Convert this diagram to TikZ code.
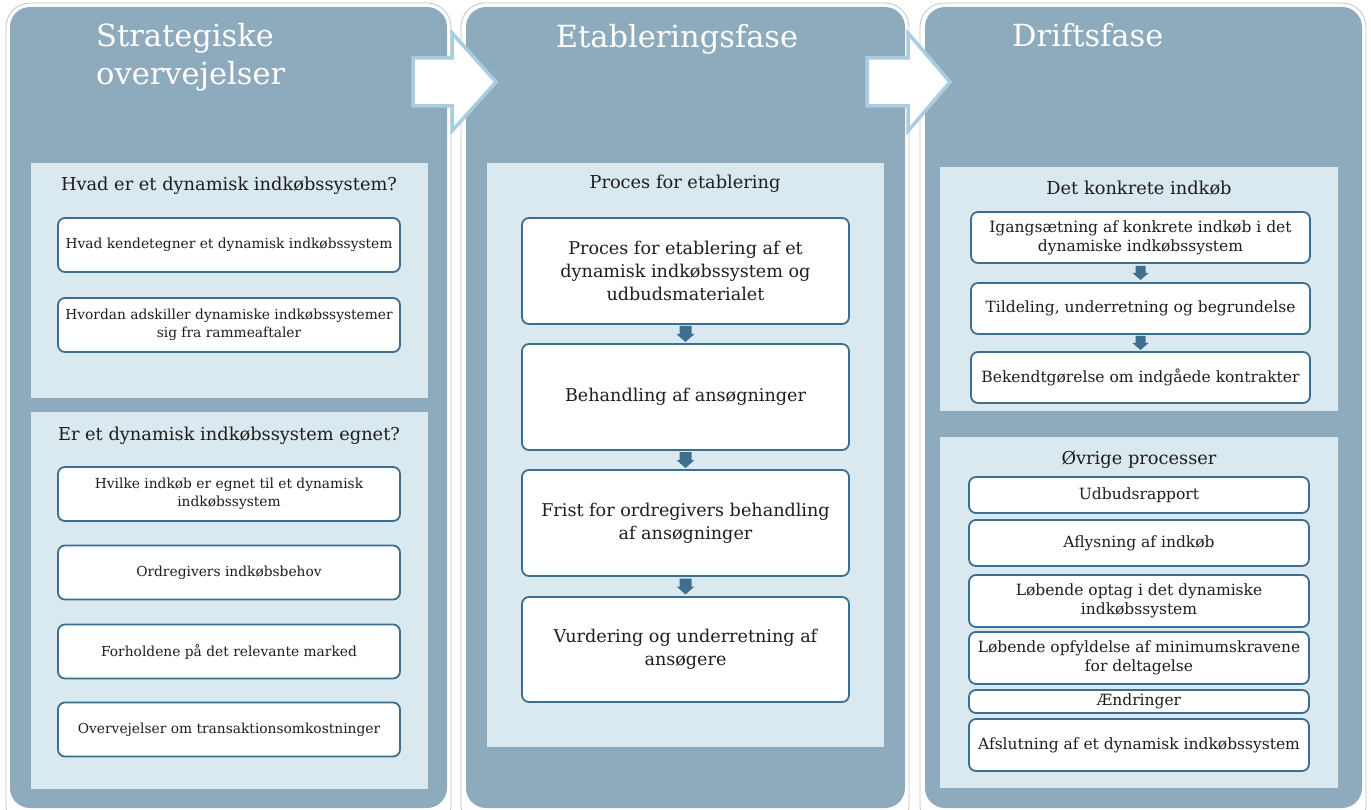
\documentclass[tikz,border=0pt]{standalone}
\usepackage{fontspec}
\setmainfont{DejaVu Serif}
\usetikzlibrary{calc}
\definecolor{panelc}{HTML}{8EABBE}
\definecolor{innerc}{HTML}{DAE8F0}
\definecolor{boxc}{HTML}{3B6E8F}
\definecolor{txtc}{HTML}{1E1E1E}
\definecolor{arrbd}{HTML}{A9CCE0}
\definecolor{darrc}{HTML}{3F6F8F}
\definecolor{framec}{HTML}{C4C4C4}
\newcommand{\downarr}[4]{% coordinate, half shaft, half head, half length
  \fill[darrc] ($(#1)+(-#2,-#4)$) -- ($(#1)+(#2,-#4)$) -- ($(#1)+(#2,0)$) -- ($(#1)+(#3,0)$) -- ($(#1)+(0,#4)$) -- ($(#1)+(-#3,0)$) -- ($(#1)+(-#2,0)$) -- cycle;}
\tikzset{
  panel/.style={fill=panelc, rounded corners=20},
  framebox/.style={draw=framec, line width=0.8, fill=white, rounded corners=24},
  innerbox/.style={fill=innerc},
  bx/.style={draw=boxc, line width=1.8, fill=white, rounded corners=7, align=center, inner sep=0, text=txtc},
  hd/.style={text=txtc, inner sep=0, font=\fontsize{17.8}{21}\selectfont},
  ttl/.style={text=white, inner sep=0, font=\fontsize{30.5}{36}\selectfont},
  bigarr/.style={draw=arrbd, line width=3.5, fill=white, line join=miter},
  fa/.style={font=\fontsize{13.8}{18}\selectfont},
  fb/.style={font=\fontsize{17.6}{23}\selectfont},
  fc/.style={font=\fontsize{15.5}{19}\selectfont},
}
\begin{document}
\begin{tikzpicture}[x=1pt,y=-1pt]
\useasboundingbox (0,0) rectangle (1371,810);
\fill[white] (0,0) rectangle (1371,810);
% frames
\path[framebox] (6,3) rectangle (451,830);
\path[framebox] (461,3) rectangle (909,830);
\path[framebox] (920,3) rectangle (1366,830);
% panels
\path[panel] (10,7) rectangle (447,808);
\path[panel] (466,7) rectangle (905,808);
\path[panel] (925,7) rectangle (1362,808);
% inner panels
\path[innerbox] (31,163) rectangle (428,398);
\path[innerbox] (31,412) rectangle (428,789);
\path[innerbox] (487,163) rectangle (884,747);
\path[innerbox] (940,167) rectangle (1338,411);
\path[innerbox] (940,437) rectangle (1338,788);
% titles
\node[ttl, anchor=base west] (t1a) at (96,47) {Strategiske};
\node[ttl, anchor=base west] (t1b) at (96,85) {overvejelser};
\node[ttl, anchor=base] (t2) at (677,48) {Etableringsfase};
\node[ttl, anchor=base west] (t3) at (1012,47) {Driftsfase};
% big arrows
\draw[bigarr] (413,58) -- (452,58) -- (452,33) -- (496,82) -- (452,131) -- (452,106) -- (413,106) -- cycle;
\draw[bigarr] (867,58) -- (908,58) -- (908,33) -- (950,82) -- (908,131) -- (908,106) -- (867,106) -- cycle;
% panel 1
\node[hd] (h1) at (229,186) {Hvad er et dynamisk indkøbssystem?};
\node[bx, fa, minimum width=342, minimum height=54] (a1) at (229,245) {Hvad kendetegner et dynamisk indkøbssystem};
\node[bx, fa, minimum width=342, minimum height=54] (a2) at (229,325) {Hvordan adskiller dynamiske indkøbssystemer\\sig fra rammeaftaler};
\node[hd] (h2) at (229,436) {Er et dynamisk indkøbssystem egnet?};
\node[bx, fa, minimum width=342, minimum height=54] (b1) at (229,494) {Hvilke indkøb er egnet til et dynamisk\\indkøbssystem};
\node[bx, fa, minimum width=342, minimum height=54] (b2) at (229,572.5) {Ordregivers indkøbsbehov};
\node[bx, fa, minimum width=342, minimum height=54] (b3) at (229,651.5) {Forholdene på det relevante marked};
\node[bx, fa, minimum width=342, minimum height=54] (b4) at (229,729.5) {Overvejelser om transaktionsomkostninger};
% panel 2
\node[hd] (h3) at (685,184) {Proces for etablering};
\node[bx, fb, minimum width=327, minimum height=106] (p1) at (685.5,271) {Proces for etablering af et\\dynamisk indkøbssystem og\\udbudsmaterialet};
\node[bx, fb, minimum width=327, minimum height=106] (p2) at (685.5,397) {Behandling af ansøgninger};
\node[bx, fb, minimum width=327, minimum height=106] (p3) at (685.5,523) {Frist for ordregivers behandling\\af ansøgninger};
\node[bx, fb, minimum width=327, minimum height=105] (p4) at (685.5,649.5) {Vurdering og underretning af\\ansøgere};
\coordinate (m1) at ($(p1.south)!0.5!(p2.north)$);
\coordinate (m2) at ($(p2.south)!0.5!(p3.north)$);
\coordinate (m3) at ($(p3.south)!0.5!(p4.north)$);
\downarr{m1}{6}{9}{8}
\downarr{m2}{6}{9}{8}
\downarr{m3}{6}{9}{8}
% panel 3
\node[hd] (h4) at (1139,188) {Det konkrete indkøb};
\node[bx, fc, minimum width=339, minimum height=51] (c1) at (1140.5,237.5) {Igangsætning af konkrete indkøb i det\\dynamiske indkøbssystem};
\node[bx, fc, minimum width=339, minimum height=51] (c2) at (1140.5,308.5) {Tildeling, underretning og begrundelse};
\node[bx, fc, minimum width=339, minimum height=51] (c3) at (1140.5,377.5) {Bekendtgørelse om indgåede kontrakter};
\coordinate (m4) at ($(c1.south)!0.5!(c2.north)$);
\coordinate (m5) at ($(c2.south)!0.5!(c3.north)$);
\downarr{m4}{5}{8}{7}
\downarr{m5}{5}{8}{7}
\node[hd] (h5) at (1139,460) {Øvrige processer};
\node[bx, fc, minimum width=340, minimum height=36] (d1) at (1139,495) {Udbudsrapport};
\node[bx, fc, minimum width=340, minimum height=46] (d2) at (1139,543) {Aflysning af indkøb};
\node[bx, fc, minimum width=340, minimum height=52] (d3) at (1139,601) {Løbende optag i det dynamiske\\indkøbssystem};
\node[bx, fc, minimum width=340, minimum height=52] (d4) at (1139,658) {Løbende opfyldelse af minimumskravene\\for deltagelse};
\node[bx, fc, minimum width=340, minimum height=23] (d5) at (1139,701.5) {Ændringer};
\node[bx, fc, minimum width=340, minimum height=52] (d6) at (1139,745) {Afslutning af et dynamisk indkøbssystem};
\end{tikzpicture}
\end{document}
